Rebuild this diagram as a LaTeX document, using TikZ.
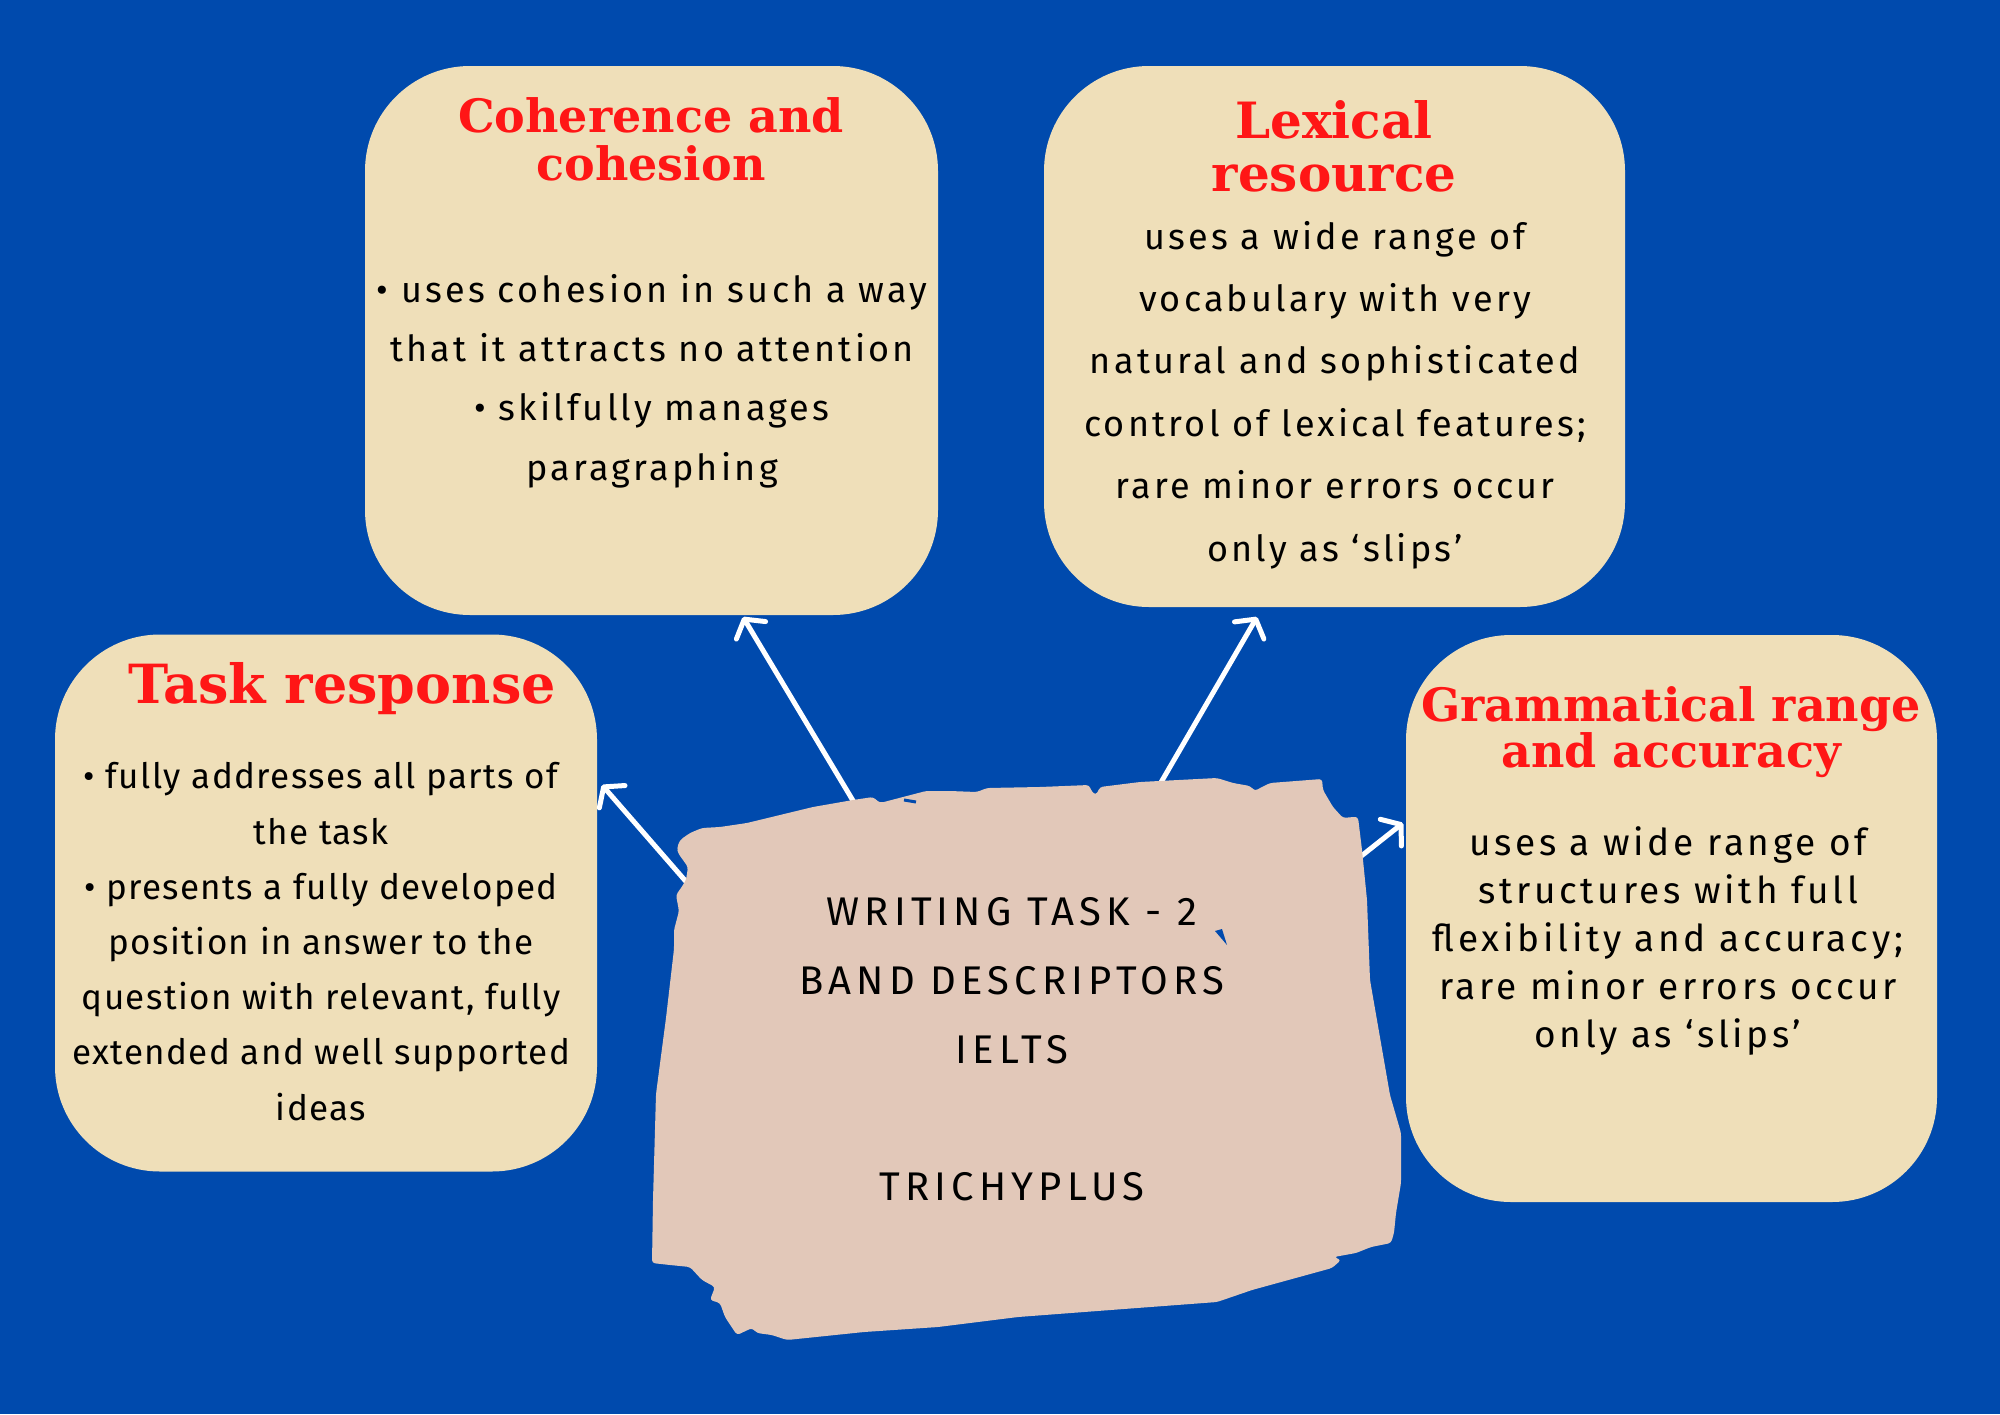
\documentclass[tikz,border=0pt]{standalone}
\usepackage{fontspec}
\usetikzlibrary{arrows.meta}
\newfontfamily\titlef{DejaVu Serif}
\newfontfamily\handf[LetterSpace=4]{Fira Sans}
\newfontfamily\handw[LetterSpace=9]{Fira Sans}
\newfontfamily\handg[LetterSpace=10]{Fira Sans}
\newfontfamily\capsf[LetterSpace=13]{Fira Sans}
\definecolor{bgblue}{HTML}{004AAD}
\definecolor{boxfill}{HTML}{EFDFB9}
\definecolor{blobfill}{HTML}{E2C8B9}
\definecolor{titlered}{HTML}{FF1616}
\tikzset{
  box/.style={fill=boxfill, rounded corners=105pt, inner sep=0pt},
  ttl/.style={text=titlered, align=center, anchor=base, inner sep=0pt},
  body/.style={text=black, align=center, anchor=base, inner sep=0pt},
  arr/.style={draw=white, line width=5pt, line cap=round,
    -{Straight Barb[length=13pt,width=34pt,round]}},
}
\begin{document}
\begin{tikzpicture}[x=1pt,y=-1pt]
\useasboundingbox (0,0) rectangle (2000,1414);
\fill[bgblue] (0,0) rectangle (2000,1414);

% boxes
\node[box, minimum width=573pt, minimum height=549pt] (coh) at (651.5,340.5) {};
\node[box, minimum width=581pt, minimum height=541pt] (lex) at (1334.5,336.5) {};
\node[box, minimum width=542pt, minimum height=537pt] (task) at (326,903) {};
\node[box, minimum width=531pt, minimum height=567pt] (gram) at (1671.5,918.5) {};

% connectors
\coordinate (s1) at (858,809);
\coordinate (t1) at (743,617);
\coordinate (s2) at (1156,791);
\coordinate (t2) at (1257,617);
\coordinate (s3) at (689,885);
\coordinate (t3) at (602,785);
\coordinate (s4) at (1355,861);
\coordinate (t4) at (1403,823);
\draw[arr] (s1) -- (t1);
\draw[arr] (s2) -- (t2);
\draw[arr] (s3) -- (t3);
\draw[arr] (s4) -- (t4);

% central torn-paper shape
\fill[blobfill, rounded corners=3pt]
 (677,848) -- (680,840) -- (690,833) -- (702,828) -- (720,827) -- (747,823) -- (780,815)
 -- (813,807) -- (853,800) -- (873,797) -- (880,803) -- (926,791) -- (950,791) -- (977,792)
 -- (987,788) -- (1040,787) -- (1089,785) -- (1092,792) -- (1096,795) -- (1100,787)
 -- (1140,782) -- (1217,778) -- (1233,783) -- (1250,786) -- (1255,791) -- (1260,788)
 -- (1270,783) -- (1322,779) -- (1323,790) -- (1333,807) -- (1343,818) -- (1353,817)
 -- (1358,817) -- (1362,850) -- (1367,900) -- (1370,980) -- (1390,1095) -- (1401,1133)
 -- (1401,1183) -- (1396,1213) -- (1394,1233) -- (1391,1243) -- (1371,1247) -- (1356,1253)
 -- (1334,1257) -- (1341,1260) -- (1332,1268) -- (1252,1290) -- (1217,1302) -- (1137,1308)
 -- (1018,1317) -- (938,1327) -- (864,1332) -- (787,1340) -- (772,1335) -- (757,1333)
 -- (752,1328) -- (737,1335) -- (725,1317) -- (720,1303) -- (710,1300) -- (715,1287)
 -- (702,1280) -- (690,1267) -- (670,1265) -- (652,1263) -- (653,1200) -- (656,1094)
 -- (666,1018) -- (674,949) -- (674,930) -- (679,911) -- (676,895) -- (681,888)
 -- (686,880) -- (688,867) -- (678,853) -- cycle;
\draw[bgblue, line width=3pt] (904,800) -- (916,802);
\fill[bgblue] (1215,931) -- (1222,929) -- (1227,945) -- cycle;

% titles (anchor = baseline of last line)
\node[ttl, font={\titlef\bfseries\fontsize{46}{48}\selectfont}] (cohT) at (651,180) {Coherence and\\cohesion};
\node[ttl, font={\titlef\bfseries\fontsize{50}{53}\selectfont}] (lexT) at (1334,191) {Lexical\\resource};
\node[ttl, font={\titlef\bfseries\fontsize{54}{55}\selectfont}] (taskT) at (342,703) {Task response};
\node[ttl, font={\titlef\bfseries\fontsize{46}{46}\selectfont}] (gramT) at (1671,767) {Grammatical range\\and accuracy};

% bodies (anchor = baseline of last line)
\node[body, font={\handw\fontsize{36}{59.3}\selectfont}] (cohB) at (652,480)
 {• uses cohesion in such a way\\that it attracts no attention\\• skilfully manages\\paragraphing};
\node[body, font={\handw\fontsize{36}{62.4}\selectfont}] (lexB) at (1335,561)
 {uses a wide range of\\vocabulary with very\\natural and sophisticated\\control of lexical features;\\rare minor errors occur\\only as ‘slips’};
\node[body, font={\handf\fontsize{35}{55.2}\selectfont}] (taskB) at (321,1120)
 {• fully addresses all parts of\\the task\\• presents a fully developed\\position in answer to the\\question with relevant, fully\\extended and well supported\\ideas};
\node[body, font={\handg\fontsize{37}{47.8}\selectfont}] (gramB) at (1668,1047)
 {uses a wide range of\\structures with full\\flexibility and accuracy;\\rare minor errors occur\\only as ‘slips’};

% centre text
\node[body, font={\capsf\fontsize{40}{69}\selectfont}] (ctr) at (1012,1200)
 {WRITING TASK - 2\\BAND DESCRIPTORS\\IELTS\\[68pt]TRICHYPLUS};
\end{tikzpicture}
\end{document}
